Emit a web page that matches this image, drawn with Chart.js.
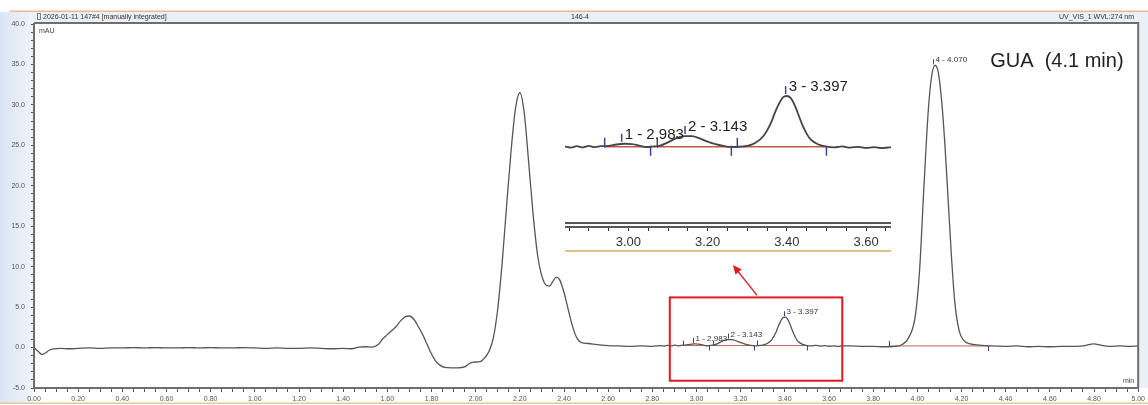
<!DOCTYPE html>
<html>
<head>
<meta charset="utf-8">
<script src="https://cdn.jsdelivr.net/npm/chart.js@4.4.1/dist/chart.umd.min.js"></script>
<style>
html, body { margin: 0; padding: 0; background: #fff; }
#wrap { position: relative; width: 1148px; height: 405px; overflow: hidden; }
#main { position: absolute; left: 0; top: 0; }
#inset { position: absolute; left: 565px; top: 70px; }
</style>
</head>
<body>
<div id="wrap">
  <canvas id="main" width="1148" height="405"></canvas>
  <canvas id="inset" width="326" height="186"></canvas>
</div>
<script>
const tempo = [
  0.00, 0.02, 0.035, 0.05, 0.07, 0.09, 0.12, 0.16, 0.20, 0.25, 0.30, 0.35, 0.40, 0.45, 0.50,
  0.55, 0.60, 0.65, 0.70, 0.75, 0.80, 0.85, 0.90, 0.95, 1.00, 1.05, 1.10, 1.15, 1.20, 1.25,
  1.30, 1.35, 1.40, 1.44, 1.47, 1.50, 1.53, 1.56, 1.58, 1.60, 1.62, 1.64, 1.66, 1.68, 1.70,
  1.72, 1.74, 1.76, 1.78, 1.80, 1.82, 1.84, 1.86, 1.89, 1.92, 1.95, 1.97, 1.99, 2.02, 2.04,
  2.06, 2.08, 2.10, 2.12, 2.14, 2.16, 2.18, 2.20, 2.22, 2.24, 2.26, 2.28, 2.30, 2.32, 2.335,
  2.35, 2.365, 2.38, 2.40, 2.42, 2.44, 2.46, 2.48, 2.51, 2.55, 2.60, 2.65, 2.70, 2.75, 2.80,
  2.84, 2.855, 2.87, 2.885, 2.90, 2.915, 2.93, 2.95, 2.97, 2.99, 3.01, 3.03, 3.045, 3.06, 3.08,
  3.10, 3.12, 3.14, 3.16, 3.18, 3.20, 3.22, 3.24, 3.26, 3.28, 3.30, 3.32, 3.34, 3.36, 3.37,
  3.38, 3.39, 3.40, 3.41, 3.42, 3.43, 3.44, 3.45, 3.46, 3.48, 3.50, 3.52, 3.54, 3.56, 3.58,
  3.60, 3.62, 3.64, 3.66, 3.70, 3.75, 3.80, 3.85, 3.90, 3.93, 3.96, 3.99, 4.01, 4.03, 4.05,
  4.065, 4.08, 4.095, 4.11, 4.125, 4.14, 4.155, 4.17, 4.19, 4.21, 4.24, 4.28, 4.33, 4.40, 4.45,
  4.50, 4.55, 4.60, 4.65, 4.70, 4.75, 4.80, 4.83, 4.87, 4.92, 4.96, 5.00
];
const mAU = [
  0.0, -0.5, -0.85, -0.7, -0.3, -0.15, -0.1, -0.15, -0.1, -0.05, -0.1, -0.05, -0.05, 0.0, -0.05,
  0.0, -0.05, -0.05, 0.0, -0.05, 0.0, -0.05, -0.05, 0.0, -0.05, -0.1, -0.05, -0.1, -0.1, -0.05,
  -0.1, -0.15, -0.1, -0.15, 0.05, 0.1, 0.05, 0.4, 1.1, 1.6, 2.1, 2.6, 3.3, 3.8, 3.9,
  3.5, 2.6, 1.6, 0.4, -0.8, -1.7, -2.2, -2.45, -2.5, -2.5, -2.4, -2.0, -1.8, -1.75, -1.3,
  -0.5, 1.2, 4.8, 10.5, 17.5, 24.2, 29.5, 31.5, 29.0, 22.9, 16.5, 11.5, 8.8, 7.7, 7.6,
  8.2, 8.7, 8.4, 6.8, 4.6, 2.5, 1.1, 0.6, 0.5, 0.35, 0.25, 0.2, 0.15, 0.2, 0.15,
  0.25, 0.18, 0.28, 0.2, 0.3, 0.22, 0.28, 0.3, 0.4, 0.45, 0.42, 0.3, 0.22, 0.25, 0.32,
  0.55, 0.82, 0.98, 0.98, 0.82, 0.6, 0.42, 0.3, 0.22, 0.25, 0.3, 0.5, 0.95, 1.9, 2.6,
  3.2, 3.65, 3.75, 3.6, 3.1, 2.4, 1.7, 1.15, 0.75, 0.4, 0.25, 0.2, 0.27, 0.18, 0.24,
  0.16, 0.22, 0.15, 0.2, 0.2, 0.15, 0.15, 0.1, 0.15, 0.35, 1.2, 3.8, 9.5, 20.0, 29.5,
  33.6, 34.9, 34.0, 30.5, 25.0, 18.0, 11.0, 5.5, 2.0, 0.9, 0.45, 0.3, 0.2, 0.15, 0.2,
  0.1, 0.15, 0.1, 0.15, 0.15, 0.2, 0.45, 0.3, 0.15, 0.2, 0.15, 0.2
];

// picos integrados
const picoNomes = ['1', '2', '3', '4'];
const picoTempos = [2.983, 3.143, 3.397, 4.070];
const integInicio = [2.94, 3.073, 3.275, 3.87];
const integFim = [3.056, 3.26, 3.50, 4.32];
const integNivel = [0.25, 0.25, 0.25, 0.2];

// destaque (em unidades do gráfico)
const caixaX = [2.879, 3.66];
const caixaY = [-4.1, 6.2];
const setaDe = [3.274, 6.45];
const setaPara = [3.165, 10.2];
const rotuloGUA = 'GUA  (4.1 min)';

const fonte = '"Liberation Sans", Arial, sans-serif';
Chart.defaults.font.family = fonte;

const pontos = tempo.map((t, i) => ({ x: t, y: mAU[i] }));

function apice(t) {
  let m = -Infinity;
  tempo.forEach((x, i) => { if (Math.abs(x - t) <= 0.016 && mAU[i] > m) m = mAU[i]; });
  return m;
}

function conjuntosIntegracao(cor, largura) {
  return integInicio.map((ini, i) => ({
    data: [{ x: ini, y: integNivel[i] }, { x: integFim[i], y: integNivel[i] }],
    borderColor: cor,
    borderWidth: largura,
    pointRadius: 0,
    tension: 0
  }));
}

function rotuloX(v, passo, casas) {
  const r = Math.round(v * 100);
  if (Math.abs(v * 100 - r) > 1e-6) return '';
  return r % passo === 0 ? (r / 100).toFixed(casas) : '';
}

// decoração do gráfico principal
const decoracao = {
  id: 'decoracao',
  beforeDraw(chart) {
    const ctx = chart.ctx;
    const a = chart.chartArea;
    ctx.save();
    ctx.fillStyle = '#fff';
    ctx.fillRect(0, 0, chart.width, chart.height);
    const g = ctx.createLinearGradient(0, 0, 32, 0);
    g.addColorStop(0, '#dbe5f3');
    g.addColorStop(1, '#eef3fa');
    ctx.fillStyle = g;
    ctx.fillRect(0, 12, 33, 391);
    ctx.fillStyle = '#eaf0f8';
    ctx.fillRect(33, 12, chart.width - 33, a.top - 12);
    ctx.fillRect(a.right, 12, chart.width - a.right, a.bottom - 12);
    ctx.fillStyle = '#e9bb92';
    ctx.fillRect(10, 10.5, chart.width - 10, 1.5);
    ctx.fillStyle = '#e6c995';
    ctx.fillRect(0, 402.5, chart.width, 1.5);
    // cabeçalho
    ctx.fillStyle = '#333';
    ctx.font = '7px ' + fonte;
    ctx.textBaseline = 'middle';
    ctx.textAlign = 'left';
    ctx.strokeStyle = '#666';
    ctx.lineWidth = 0.8;
    ctx.strokeRect(37.5, 13.5, 3, 6);
    ctx.fillText('2026-01-11 147#4 [manually integrated]', 43, 17.5);
    ctx.textAlign = 'center';
    ctx.fillText('146-4', 580, 17.5);
    ctx.textAlign = 'right';
    ctx.fillText('UV_VIS_1 WVL:274 nm', 1134, 17.5);
    ctx.restore();
  },
  afterDatasetsDraw(chart) {
    const ctx = chart.ctx;
    const a = chart.chartArea;
    const xs = chart.scales.x, ys = chart.scales.y;
    ctx.save();
    // moldura
    ctx.strokeStyle = '#6e6e6e';
    ctx.lineWidth = 2;
    ctx.beginPath();
    ctx.moveTo(a.left, a.top - 1);
    ctx.lineTo(a.right, a.top - 1);
    ctx.lineTo(a.right, a.bottom);
    ctx.stroke();
    // delimitadores
    ctx.strokeStyle = '#4b3d8c';
    ctx.lineWidth = 1;
    integInicio.forEach((ini, i) => {
      const y = ys.getPixelForValue(integNivel[i]);
      const x1 = Math.round(xs.getPixelForValue(ini)) + 0.5;
      const x2 = Math.round(xs.getPixelForValue(integFim[i])) + 0.5;
      ctx.beginPath();
      ctx.moveTo(x1, y); ctx.lineTo(x1, y - 5);
      ctx.moveTo(x2, y); ctx.lineTo(x2, y + 5);
      ctx.stroke();
    });
    // rótulos dos picos
    ctx.font = '8px ' + fonte;
    ctx.fillStyle = '#333';
    ctx.textAlign = 'left';
    ctx.textBaseline = 'middle';
    picoTempos.forEach((t, i) => {
      const x = Math.round(xs.getPixelForValue(t)) + 0.5;
      const y = ys.getPixelForValue(apice(t));
      ctx.beginPath();
      ctx.moveTo(x, y - 1); ctx.lineTo(x, y - 6);
      ctx.stroke();
      ctx.fillText(picoNomes[i] + ' - ' + t.toFixed(3), x + 2, y - 5);
    });
    // caixa e seta vermelhas
    ctx.strokeStyle = '#e3191f';
    ctx.fillStyle = '#e3191f';
    ctx.lineWidth = 2;
    const bx1 = xs.getPixelForValue(caixaX[0]), bx2 = xs.getPixelForValue(caixaX[1]);
    const by1 = ys.getPixelForValue(caixaY[1]), by2 = ys.getPixelForValue(caixaY[0]);
    ctx.strokeRect(bx1, by1, bx2 - bx1, by2 - by1);
    const sx = xs.getPixelForValue(setaDe[0]), sy = ys.getPixelForValue(setaDe[1]);
    const ex = xs.getPixelForValue(setaPara[0]), ey = ys.getPixelForValue(setaPara[1]);
    const ang = Math.atan2(ey - sy, ex - sx);
    ctx.lineWidth = 1.3;
    ctx.beginPath();
    ctx.moveTo(sx, sy);
    ctx.lineTo(ex - 6 * Math.cos(ang), ey - 6 * Math.sin(ang));
    ctx.stroke();
    ctx.beginPath();
    ctx.moveTo(ex, ey);
    ctx.lineTo(ex - 9 * Math.cos(ang) + 4 * Math.sin(ang), ey - 9 * Math.sin(ang) - 4 * Math.cos(ang));
    ctx.lineTo(ex - 9 * Math.cos(ang) - 4 * Math.sin(ang), ey - 9 * Math.sin(ang) + 4 * Math.cos(ang));
    ctx.closePath();
    ctx.fill();
    // textos
    ctx.fillStyle = '#222';
    ctx.font = '20px ' + fonte;
    ctx.textAlign = 'left';
    ctx.fillText(rotuloGUA, xs.getPixelForValue(4.33), ys.getPixelForValue(35.4));
    ctx.fillStyle = '#444';
    ctx.font = '7px ' + fonte;
    ctx.fillText('mAU', a.left + 5, a.top + 7);
    ctx.textAlign = 'right';
    ctx.fillText('min', a.right - 4, a.bottom - 7);
    ctx.restore();
  }
};

new Chart(document.getElementById('main'), {
  type: 'line',
  data: {
    datasets: [{
      data: pontos,
      borderColor: '#555',
      borderWidth: 1.3,
      pointRadius: 0,
      cubicInterpolationMode: 'monotone'
    }].concat(conjuntosIntegracao('rgba(185, 70, 60, 0.85)', 1))
  },
  options: {
    responsive: false,
    animation: false,
    events: [],
    layout: { padding: { top: 24, right: 9, bottom: 0, left: 0 } },
    plugins: { legend: { display: false }, tooltip: { enabled: false } },
    scales: {
      x: {
        type: 'linear',
        min: 0,
        max: 5,
        afterFit: s => { s.height = 17; },
        border: { display: true, color: '#6e6e6e', width: 2 },
        grid: { display: true, drawOnChartArea: false, drawTicks: true, tickLength: 4, tickColor: '#555' },
        ticks: {
          stepSize: 0.05, autoSkip: false, maxRotation: 0, minRotation: 0, includeBounds: false,
          padding: 3, color: '#555', font: { size: 7 },
          callback: v => rotuloX(v, 20, 2)
        }
      },
      y: {
        min: -5,
        max: 40,
        afterFit: s => { s.width = 34; },
        border: { display: true, color: '#6e6e6e', width: 2 },
        grid: { display: true, drawOnChartArea: false, drawTicks: true, tickLength: 3, tickColor: '#555' },
        ticks: {
          stepSize: 1, autoSkip: false, padding: 6, color: '#555', font: { size: 7 },
          callback: v => (v % 5 === 0 ? v.toFixed(1) : '')
        }
      }
    }
  },
  plugins: [decoracao]
});

// detalhe ampliado da região 2.9 - 3.6 min
const detalhe = {
  id: 'detalhe',
  afterDatasetsDraw(chart) {
    const ctx = chart.ctx;
    const a = chart.chartArea;
    const xs = chart.scales.x, ys = chart.scales.y;
    ctx.save();
    ctx.fillStyle = '#555';
    ctx.fillRect(a.left, a.bottom - 5, a.right - a.left, 2);
    ctx.fillStyle = '#dcc18a';
    ctx.fillRect(a.left, 180, a.right - a.left, 2);
    ctx.strokeStyle = '#4b3d8c';
    ctx.lineWidth = 1.5;
    integInicio.forEach((ini, i) => {
      if (ini > xs.max) return;
      const y = ys.getPixelForValue(integNivel[i]);
      const x1 = xs.getPixelForValue(ini);
      const x2 = xs.getPixelForValue(integFim[i]);
      ctx.beginPath();
      ctx.moveTo(x1, y + 1); ctx.lineTo(x1, y - 9);
      ctx.moveTo(x2, y - 1); ctx.lineTo(x2, y + 9);
      ctx.stroke();
    });
    ctx.font = '15px ' + fonte;
    ctx.fillStyle = '#222';
    ctx.textAlign = 'left';
    ctx.textBaseline = 'middle';
    picoTempos.forEach((t, i) => {
      if (t > xs.max) return;
      const x = xs.getPixelForValue(t);
      const y = ys.getPixelForValue(apice(t));
      ctx.beginPath();
      ctx.moveTo(x, y - 2); ctx.lineTo(x, y - 10);
      ctx.stroke();
      ctx.fillText(picoNomes[i] + ' - ' + t.toFixed(3), x + 3, y - 9);
    });
    ctx.restore();
  }
};

new Chart(document.getElementById('inset'), {
  type: 'line',
  data: {
    datasets: [{
      data: pontos,
      borderColor: '#444',
      borderWidth: 1.8,
      pointRadius: 0,
      cubicInterpolationMode: 'monotone'
    }].concat(conjuntosIntegracao('rgba(185, 70, 60, 0.9)', 1.5))
  },
  options: {
    responsive: false,
    animation: false,
    events: [],
    layout: { padding: { top: 5, right: 0, bottom: 0, left: 0 } },
    plugins: { legend: { display: false }, tooltip: { enabled: false } },
    scales: {
      x: {
        type: 'linear',
        min: 2.84,
        max: 3.663,
        afterFit: s => { s.height = 29; },
        border: { display: true, color: '#555', width: 2 },
        grid: { display: true, drawOnChartArea: false, drawTicks: true, tickLength: 4, tickColor: '#333' },
        ticks: {
          stepSize: 0.05, autoSkip: false, maxRotation: 0, minRotation: 0, includeBounds: false,
          padding: 4, color: '#333', font: { size: 13 },
          callback: v => rotuloX(v, 20, 2)
        }
      },
      y: { display: false, min: -5.3, max: 5.2 }
    }
  },
  plugins: [detalhe]
});
</script>
</body>
</html>
